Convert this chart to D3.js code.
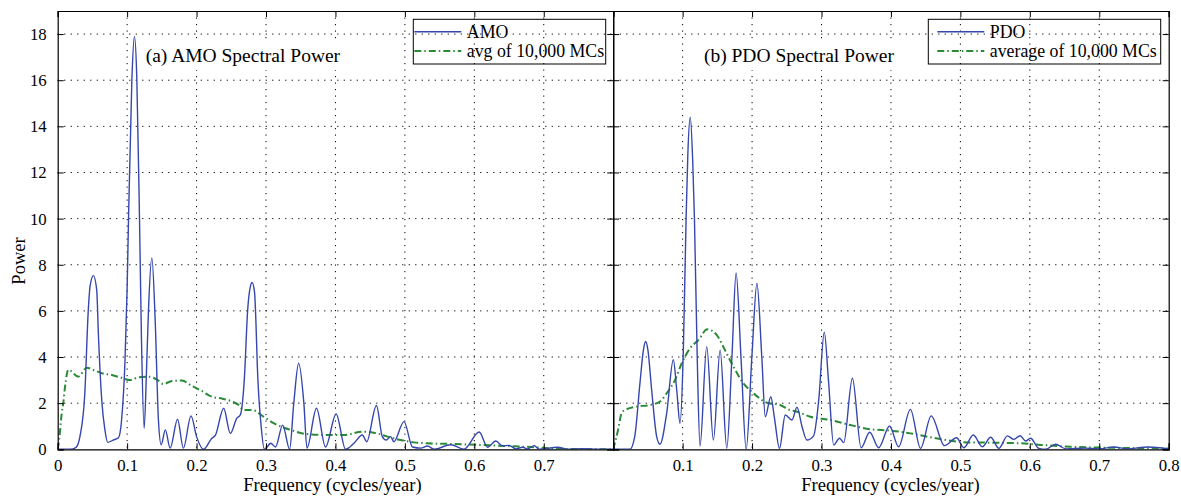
<!DOCTYPE html>
<html>
<head>
<meta charset="utf-8">
<script src="https://cdn.jsdelivr.net/npm/d3@7"></script>
<style>
  body { margin: 0; background: #fff; }
  svg { display: block; font-family: "Liberation Serif", "Times New Roman", serif; }
</style>
</head>
<body>
<div class="chart"></div>
<script>
// Spectral power, [frequency, power]
var amoPower = [
  [0,0],[0.015,0],[0.022,0.02],[0.027,0.1],[0.032,0.55],[0.039,2.4],[0.044,6.0],[0.0466,7.06],[0.0514,7.53],
  [0.0562,6.9],[0.0586,5.0],[0.0635,2.1],[0.068,0.84],[0.072,0.3],[0.08,0.4],[0.0875,0.5],[0.092,1.27],
  [0.097,3.9],[0.1,7.0],[0.102,10],[0.1068,16],[0.1105,17.9],[0.114,16],[0.1178,10],[0.1205,5],
  [0.1245,0.91],[0.128,3.5],[0.1307,6],[0.1356,8.3],[0.1405,5.5],[0.145,1.3],[0.149,0.2],
  [0.155,0.84],[0.162,0.05],[0.1726,1.3],[0.181,0.05],[0.192,1.45],[0.2,0.55],[0.21,0],
  [0.222,0.48],[0.227,0.6],[0.239,1.78],[0.2486,0.69],[0.258,1.35],[0.263,1.49],[0.269,3.15],
  [0.2735,6.0],[0.2765,6.9],[0.28,7.23],[0.2835,6.8],[0.2855,5.5],[0.2875,3.6],[0.293,1.0],[0.2977,0],[0.307,0.26],
  [0.3136,0.1],[0.324,1.05],[0.334,0],[0.34,2.0],[0.347,3.73],[0.3545,2.0],[0.359,0.05],
  [0.3727,1.78],[0.3857,0.1],[0.401,1.53],[0.4146,0],[0.4266,0.26],[0.4387,0.62],[0.445,0.33],
  [0.459,1.9],[0.4675,0.55],[0.473,0.4],[0.4795,0.55],[0.484,0.33],[0.4987,1.2],[0.511,0.1],
  [0.523,0.05],[0.5325,0.14],[0.542,0],[0.566,0.2],[0.585,0],[0.607,0.75],[0.619,0.09],
  [0.631,0.36],[0.6407,0.15],[0.65,0.17],[0.66,0.02],[0.6695,0.09],[0.677,0.02],[0.6863,0.16],
  [0.6935,0],[0.72,0.09],[0.7345,0],[0.755,0.03],[0.78,0],[0.8,0]
];
var amoMC = [
  [0,0],[0.002,0.4],[0.0058,1.56],[0.008,2.0],[0.0105,2.7],[0.0153,3.44],[0.0298,3.15],
  [0.0418,3.54],[0.0514,3.44],[0.0635,3.3],[0.078,3.22],[0.092,3.1],[0.104,3.0],[0.116,3.12],
  [0.131,3.15],[0.145,2.98],[0.152,2.83],[0.1645,2.96],[0.179,2.98],[0.193,2.75],[0.205,2.57],
  [0.222,2.28],[0.2367,2.2],[0.251,2.07],[0.2606,1.92],[0.268,1.7],[0.28,1.7],[0.2967,1.41],
  [0.311,1.13],[0.3355,0.84],[0.359,0.66],[0.388,0.62],[0.412,0.62],[0.4387,0.76],[0.455,0.72],
  [0.475,0.55],[0.494,0.4],[0.513,0.3],[0.532,0.26],[0.571,0.23],[0.607,0.19],[0.648,0.14],
  [0.686,0.09],[0.715,0.03],[0.75,0.01],[0.8,0]
];
var pdoPower = [
  [0,0],[0.024,0],[0.031,0.55],[0.0385,2.86],[0.0435,4.3],[0.0467,4.67],[0.05,4.3],[0.0554,2.57],[0.0626,0.55],
  [0.0674,0.22],[0.077,1.56],[0.0866,3.88],[0.0915,2.57],[0.0962,1.13],[0.101,4.3],[0.105,10],
  [0.1075,12.8],[0.111,14.4],[0.1145,12.5],[0.117,10],[0.121,4],[0.125,0.14],[0.1347,4.45],
  [0.1443,0.4],[0.154,4.3],[0.1636,0.04],[0.171,4],[0.177,7.64],[0.184,4],[0.1915,0],
  [0.1997,4],[0.207,7.2],[0.214,4],[0.219,1.41],[0.227,2.28],[0.232,1.41],[0.2395,0.04],
  [0.2478,1.49],[0.2574,1.27],[0.2647,1.82],[0.272,0.98],[0.279,0.4],[0.2886,0.58],[0.296,2.14],
  [0.304,5.08],[0.31,3.0],[0.3175,0.19],[0.326,0.48],[0.332,0.29],[0.3445,3.08],[0.357,0.07],
  [0.3694,0.74],[0.3824,0.07],[0.398,1.01],[0.411,0.11],[0.428,1.73],[0.4426,0.04],[0.458,1.45],
  [0.477,0.16],[0.4945,0.5],[0.505,0.07],[0.5186,0.62],[0.5316,0.11],[0.5436,0.52],[0.5555,0.04],
  [0.5677,0.58],[0.577,0.43],[0.586,0.59],[0.594,0.36],[0.601,0.48],[0.613,0.04],[0.623,0],
  [0.637,0.22],[0.652,0.02],[0.68,0.05],[0.7,0.02],[0.7215,0.1],[0.74,0.02],[0.77,0.1],[0.8,0.02]
];
var pdoMC = [
  [0,0],[0.007,0.84],[0.012,1.56],[0.017,1.7],[0.0337,1.85],[0.053,1.92],[0.0674,2.07],
  [0.077,2.43],[0.089,3.0],[0.0987,3.73],[0.1107,4.38],[0.1227,4.74],[0.1356,5.2],[0.149,4.96],
  [0.161,4.3],[0.173,3.59],[0.1876,2.86],[0.202,2.43],[0.2213,2.02],[0.2405,1.92],[0.2545,1.7],
  [0.2646,1.63],[0.2838,1.41],[0.3127,1.27],[0.3416,1.05],[0.3704,0.87],[0.3994,0.81],
  [0.428,0.69],[0.457,0.52],[0.486,0.37],[0.5147,0.29],[0.529,0.29],[0.587,0.26],[0.616,0.19],
  [0.659,0.11],[0.707,0.07],[0.755,0.05],[0.8,0.03]
];

// tick values / labels
var freqTicks = [0, 0.1, 0.2, 0.3, 0.4, 0.5, 0.6, 0.7, 0.8];
var leftFreqLabels = ["0", "0.1", "0.2", "0.3", "0.4", "0.5", "0.6", "0.7", ""];
var rightFreqLabels = ["", "0.1", "0.2", "0.3", "0.4", "0.5", "0.6", "0.7", "0.8"];
var powerTicks = [0, 2, 4, 6, 8, 10, 12, 14, 16, 18];

var svgWidth = 1181;
var svgHeight = 497;
var plotTop = 11, plotBottom = 449.3;
var panelW = 555.5;
var leftX = 57.7;
var rightX = leftX + panelW;

var blue = "#3546ad";
var green = "#2b8a36";

var svg = d3.select(".chart")
  .append("svg")
  .attr("width", svgWidth)
  .attr("height", svgHeight);

var yScale = d3.scaleLinear().domain([0, 19]).range([plotBottom, plotTop]);

function drawPanel(x0, cfg) {
  var xScale = d3.scaleLinear().domain([0, 0.8]).range([0, panelW]);
  var g = svg.append("g").attr("transform", "translate(" + x0 + ",0)");
  var clipId = "clip" + cfg.id;
  g.append("clipPath").attr("id", clipId)
    .append("rect").attr("x", 0).attr("y", plotTop).attr("width", panelW).attr("height", plotBottom - plotTop);

  // dotted grid
  g.append("g").selectAll("line").data(freqTicks.slice(1, -1)).enter().append("line")
    .attr("x1", d => xScale(d)).attr("x2", d => xScale(d))
    .attr("y1", plotTop).attr("y2", plotBottom)
    .attr("stroke", "#000").attr("stroke-width", 1).attr("stroke-dasharray", "1.2,5.3");
  g.append("g").selectAll("line").data(powerTicks.slice(1)).enter().append("line")
    .attr("x1", 0).attr("x2", panelW)
    .attr("y1", d => yScale(d)).attr("y2", d => yScale(d))
    .attr("stroke", "#000").attr("stroke-width", 1).attr("stroke-dasharray", "1.2,5.3");

  // title with white box
  var title = g.append("g");
  var tbox = title.append("rect").attr("fill", "#fff");
  var ttxt = title.append("text")
    .attr("x", cfg.titleX).attr("y", 61.5)
    .attr("font-size", "19.5px").attr("fill", "#000")
    .text(cfg.title);
  var bb = ttxt.node().getBBox();
  tbox.attr("x", bb.x - 5).attr("y", 43).attr("width", bb.width + 10).attr("height", 27);

  // curves
  var line = d3.line()
    .x(d => xScale(d[0]))
    .y(d => yScale(d[1]))
    .curve(d3.curveMonotoneX);
  var curves = g.append("g").attr("clip-path", "url(#" + clipId + ")");
  curves.append("path").datum(cfg.mc)
    .attr("d", line).attr("fill", "none")
    .attr("stroke", green).attr("stroke-width", 2)
    .attr("stroke-dasharray", "7,3,1.5,3");
  curves.append("path").datum(cfg.power)
    .attr("d", line).attr("fill", "none")
    .attr("stroke", blue).attr("stroke-width", 1.4);

  // axes, ticks inward
  var bottomAxis = d3.axisBottom(xScale).tickValues(freqTicks)
    .tickSize(-6).tickPadding(10)
    .tickFormat((d, i) => cfg.freqLabels[i]);
  var topAxis = d3.axisTop(xScale).tickValues(freqTicks).tickSize(-6).tickFormat("");
  var leftAxis = d3.axisLeft(yScale).tickValues(powerTicks).tickSize(-6).tickPadding(11)
    .tickFormat(cfg.showY ? d3.format("d") : "");
  var rightAxis = d3.axisRight(yScale).tickValues(powerTicks).tickSize(-6).tickFormat("");

  [[bottomAxis, "translate(0," + plotBottom + ")"], [topAxis, "translate(0," + plotTop + ")"],
   [leftAxis, "translate(0,0)"], [rightAxis, "translate(" + panelW + ",0)"]].forEach(function (a) {
    var ax = g.append("g").attr("transform", a[1]).call(a[0]);
    ax.select(".domain").attr("stroke", "#000").attr("stroke-width", 1.2);
    ax.selectAll(".tick line").attr("stroke", "#000");
    ax.selectAll("text").attr("font-family", "Liberation Serif").attr("font-size", "16.8px").attr("fill", "#000");
  });

  // x label
  g.append("text")
    .attr("x", panelW / 2 + cfg.xLabelShift).attr("y", 491)
    .attr("text-anchor", "middle").attr("font-size", "18.5px")
    .text("Frequency (cycles/year)");

  // legend (transparent so grid shows through)
  var lg = g.append("g").attr("transform", "translate(" + (cfg.legX - x0) + ",19.3)");
  lg.append("rect").attr("width", cfg.legW).attr("height", 44.7)
    .attr("fill", "none").attr("stroke", "#000").attr("stroke-width", 1);
  lg.append("line").attr("x1", cfg.lineX0).attr("x2", cfg.lineX0 + 47).attr("y1", 12.4).attr("y2", 12.4)
    .attr("stroke", blue).attr("stroke-width", 1.4);
  lg.append("line").attr("x1", cfg.lineX0).attr("x2", cfg.lineX0 + 47).attr("y1", 31.7).attr("y2", 31.7)
    .attr("stroke", green).attr("stroke-width", 2).attr("stroke-dasharray", "7,3,1.5,3");
  lg.append("text").attr("x", cfg.lineX0 + 52.5).attr("y", 18.3).attr("font-size", "17.8px").text(cfg.name);
  lg.append("text").attr("x", cfg.lineX0 + 52.5).attr("y", 37.6).attr("font-size", "17.8px").text(cfg.mcName);
}

drawPanel(leftX, {
  id: "a", title: "(a) AMO Spectral Power", titleX: 88,
  power: amoPower, mc: amoMC, freqLabels: leftFreqLabels, showY: true,
  name: "AMO", mcName: "avg of 10,000 MCs",
  legX: 413.3, legW: 192.4, lineX0: 1, xLabelShift: -3
});
drawPanel(rightX, {
  id: "b", title: "(b) PDO Spectral Power", titleX: 90.7,
  power: pdoPower, mc: pdoMC, freqLabels: rightFreqLabels, showY: false,
  name: "PDO", mcName: "average of 10,000 MCs",
  legX: 928.3, legW: 232.4, lineX0: 9, xLabelShift: -0.5
});

// y-axis label
svg.append("text")
  .attr("transform", "translate(24.5," + 261 + ") rotate(-90)")
  .attr("text-anchor", "middle")
  .attr("font-size", "18.5px")
  .text("Power");
</script>
</body>
</html>
